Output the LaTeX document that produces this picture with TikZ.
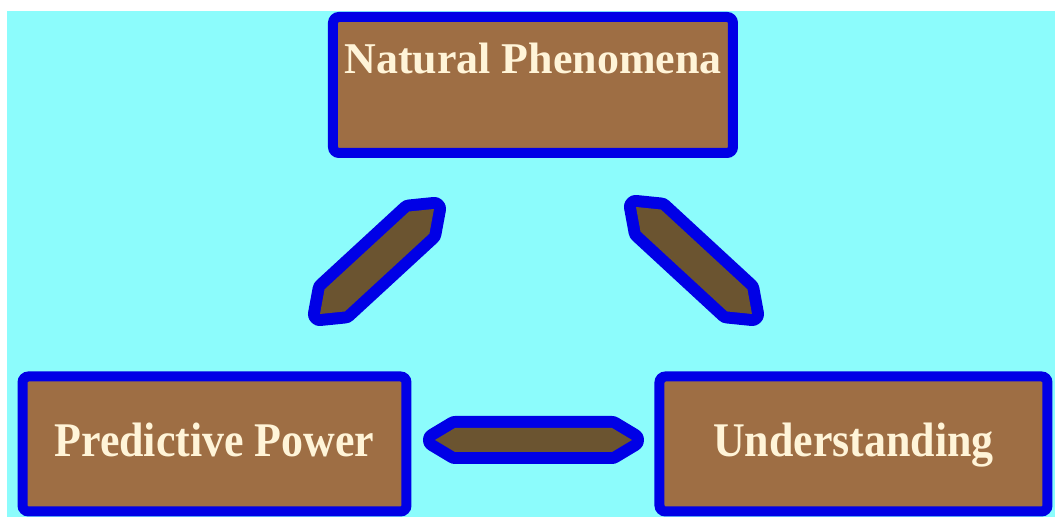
\documentclass[tikz,border=0pt]{standalone}
\usepackage{fontspec}
\setmainfont{Liberation Serif}
\usetikzlibrary{calc}
\definecolor{skycyan}{RGB}{140,252,252}
\definecolor{boxbrown}{RGB}{158,110,68}
\definecolor{arrowbrown}{RGB}{107,84,48}
\definecolor{edgeblue}{RGB}{0,0,230}
\definecolor{labelcream}{RGB}{255,244,216}

\begin{document}
\begin{tikzpicture}[
    box/.style={draw=edgeblue, line width=0.1cm, fill=boxbrown, rounded corners=0.06cm,
      inner sep=0pt, text=labelcream, font=\fontsize{12.5}{15}\selectfont\bfseries},
    fatarrow/.style={fill=arrowbrown, line join=round,
      preaction={draw=edgeblue, line width=0.24cm, line join=round}}
  ]
  \useasboundingbox (0,0) rectangle (10.55,5.17);
  \fill[skycyan] (0.07,0) rectangle (10.55,5.06);

  % Boxes
  \node[box, minimum width=4cm, text height=0.57cm, text depth=0.79cm] (np) at (5.33,4.32) {Natural Phenomena};
  \node[box, minimum width=3.84cm, text height=0.80cm, text depth=0.55cm] (pp) at (2.145,0.73) {\scalebox{1}[1.1]{Predictive Power}};
  \node[box, minimum width=3.88cm, text height=0.80cm, text depth=0.55cm] (un) at (8.535,0.73) {\scalebox{1}[1.1]{Understanding}};

  % Arrow ends
  \coordinate (la-s) at (3.20,2.03);
  \coordinate (la-e) at (4.34,3.08);
  \coordinate (ra-s) at (6.36,3.10);
  \coordinate (ra-e) at (7.52,2.03);
  \coordinate (ha-s) at (4.35,0.77);
  \coordinate (ha-e) at (6.32,0.77);

  % Double arrows
  \foreach \s/\e/\w in {la-s/la-e/0.15cm, ra-s/ra-e/0.15cm, ha-s/ha-e/0.12cm}
    \path[fatarrow] (\s) -- ($(\s)!0.2cm!(\e)!\w!90:(\e)$)
      -- ($(\e)!0.2cm!(\s)!\w!-90:(\s)$) -- (\e)
      -- ($(\e)!0.2cm!(\s)!\w!90:(\s)$)
      -- ($(\s)!0.2cm!(\e)!\w!-90:(\e)$) -- cycle;
\end{tikzpicture}
\end{document}
